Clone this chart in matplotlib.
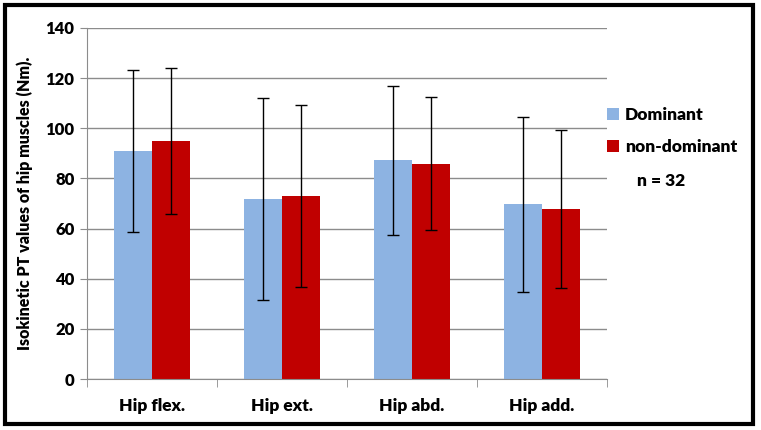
import numpy as np
import matplotlib.pyplot as plt
from matplotlib.patches import Rectangle

# Datos
categorias = ['Hip flex.', 'Hip ext.', 'Hip abd.', 'Hip add.']
dominante = [91.1, 71.8, 87.2, 69.8]
no_dominante = [95.0, 73.1, 85.9, 67.7]
de_dominante = [32.3, 40.3, 29.8, 34.9]
de_no_dominante = [29.1, 36.3, 26.4, 31.6]

plt.rcParams['font.family'] = ['Lato', 'DejaVu Sans']
peso = 'heavy'

fig = plt.figure(figsize=(7.61, 4.30), dpi=100)
ax = fig.add_axes([87 / 761, 1 - 379 / 430, 520 / 761, 351 / 430])

x = np.arange(len(categorias))
ancho = 0.29
barra_err = dict(ecolor='black', elinewidth=1, capsize=4, capthick=1)
ax.bar(x - ancho / 2, dominante, ancho, color='#8DB3E2', label='Dominant',
       yerr=de_dominante, error_kw=barra_err, zorder=2)
ax.bar(x + ancho / 2, no_dominante, ancho, color='#C00000', label='non-dominant',
       yerr=de_no_dominante, error_kw=barra_err, zorder=2)

ax.set_xlim(-0.5, len(categorias) - 0.5)
ax.set_ylim(0, 140)
ax.set_yticks(range(0, 141, 20))
ax.yaxis.grid(True, color='#8C8C8C', linewidth=1, zorder=0)
ax.set_axisbelow(True)

ax.set_xticks(x)
ax.set_xticklabels(categorias, fontsize=12.5, fontweight=peso)
ax.set_xticks(np.arange(-0.5, len(categorias)), minor=True)
ax.tick_params(axis='x', which='major', length=0, pad=14)
ax.tick_params(axis='x', which='minor', length=6, color='#8C8C8C')
ax.tick_params(axis='y', length=5, color='#8C8C8C', labelsize=12, pad=4)
for lab in ax.get_yticklabels():
    lab.set_fontweight(peso)

for lado in ['top', 'right']:
    ax.spines[lado].set_visible(False)
for lado in ['left', 'bottom']:
    ax.spines[lado].set_color('#8C8C8C')

ax.set_ylabel('Isokinetic PT values of hip muscles (Nm).', fontsize=11.5, fontweight=peso, labelpad=9)

leg = ax.legend(loc='upper left', bbox_to_anchor=(1.0, 0.775), frameon=False, fontsize=12.5,
                handlelength=0.7, handleheight=0.7, handletextpad=0.35, labelspacing=0.95,
                borderaxespad=0.0, borderpad=0.0)
for t in leg.get_texts():
    t.set_fontweight(peso)

fig.text(661 / 761, 1 - 181 / 430, 'n = 32', ha='center', va='center', fontsize=12.5, fontweight=peso)

# Marco negro alrededor de la figura
fig.patches.append(Rectangle((4.5 / 761, 1 - 424 / 430), 748 / 761, 419 / 430,
                             transform=fig.transFigure, fill=False, edgecolor='black', linewidth=3))

fig.savefig('out.png', dpi=100)
